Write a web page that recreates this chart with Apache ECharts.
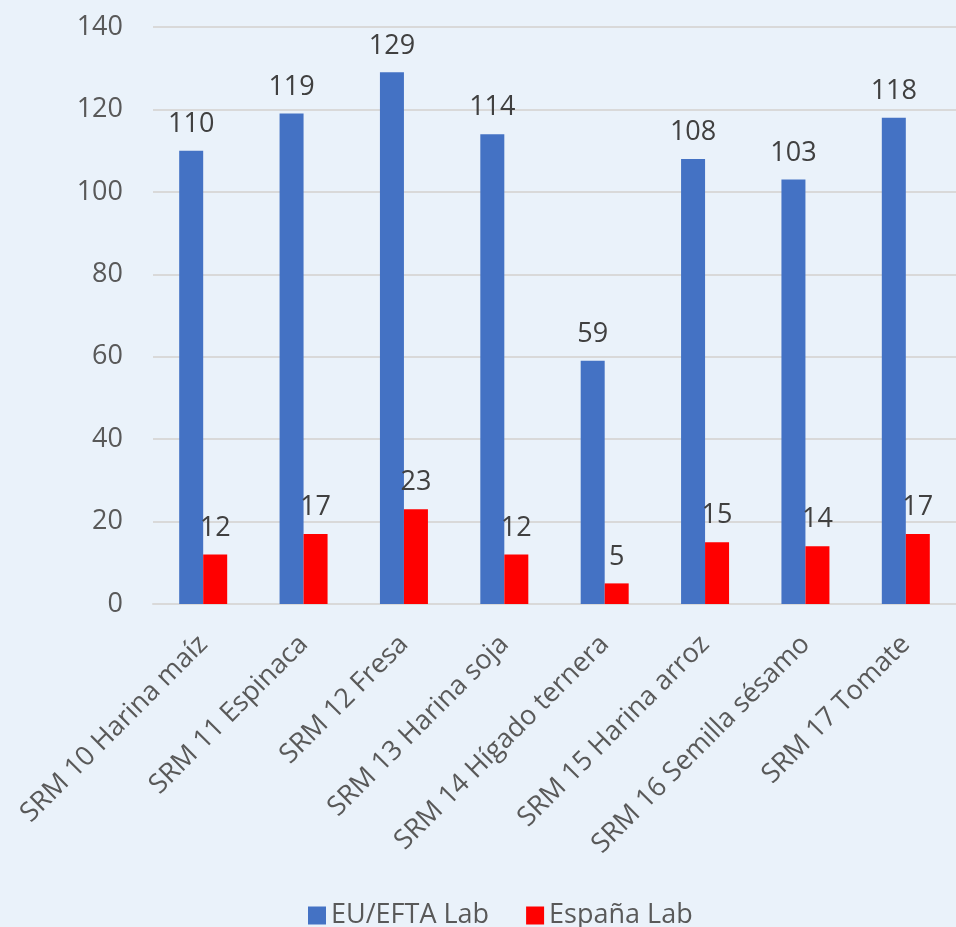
<!DOCTYPE html>
<html>
<head>
<meta charset="utf-8">
<script src="https://cdn.jsdelivr.net/npm/echarts@6/dist/echarts.min.js"></script>
<style>
  html, body { margin: 0; padding: 0; background: #EAF2FA; }
  #chart { width: 956px; height: 927px; }
</style>
</head>
<body>
<div id="chart"></div>
<script>
// Categories (reference materials) and lab counts
const categories = [
  'SRM 10 Harina maíz', 'SRM 11 Espinaca', 'SRM 12 Fresa', 'SRM 13 Harina soja',
  'SRM 14 Hígado ternera', 'SRM 15 Harina arroz', 'SRM 16 Semilla sésamo', 'SRM 17 Tomate'
];
const euEftaLab = [110, 119, 129, 114, 59, 108, 103, 118];
const espanaLab = [12, 17, 23, 12, 5, 15, 14, 17];
const seriesNames = ['EU/EFTA Lab', 'España Lab'];

const FONT = '"Open Sans", "Noto Sans", sans-serif';
const FS = 27;

const chart = echarts.init(document.getElementById('chart'), null, { renderer: 'canvas' });

const labelStyle = {
  show: true,
  position: 'top',
  distance: 13,
  color: '#404040',
  fontSize: FS,
  fontFamily: FONT
};

chart.setOption({
  backgroundColor: '#EAF2FA',
  animation: false,
  grid: { left: 153, right: -1, top: 27, bottom: 323, containLabel: false },
  legend: {
    bottom: -7,
    left: 303,
    itemWidth: 18,
    itemHeight: 18,
    itemGap: 37,
    icon: 'rect',
    textStyle: { color: '#595959', fontSize: FS, fontFamily: FONT },
    data: seriesNames
  },
  xAxis: {
    type: 'category',
    data: categories,
    axisLine: { show: true, lineStyle: { color: '#D9D9D9', width: 2 } },
    axisTick: { show: false },
    axisLabel: {
      rotate: 45,
      interval: 0,
      margin: 36,
      color: '#595959',
      fontSize: FS,
      fontFamily: FONT
    }
  },
  yAxis: {
    type: 'value',
    min: 0,
    max: 140,
    interval: 20,
    axisLine: { show: false },
    axisTick: { show: false },
    splitLine: { lineStyle: { color: '#D9D9D9', width: 2 } },
    axisLabel: {
      margin: 30,
      color: '#595959',
      fontSize: FS,
      fontFamily: FONT
    }
  },
  series: [
    {
      name: seriesNames[0],
      type: 'bar',
      data: euEftaLab,
      barWidth: 24,
      barGap: '0%',
      itemStyle: { color: '#4472C4' },
      label: labelStyle
    },
    {
      name: seriesNames[1],
      type: 'bar',
      data: espanaLab,
      barWidth: 24,
      barGap: '0%',
      itemStyle: { color: '#FF0000' },
      label: labelStyle
    }
  ]
});
</script>
</body>
</html>
